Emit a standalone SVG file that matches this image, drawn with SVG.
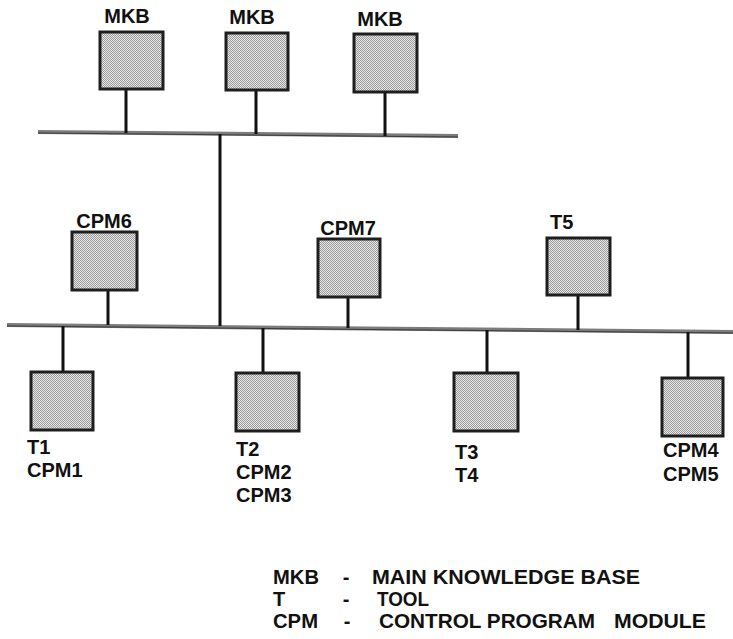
<svg xmlns="http://www.w3.org/2000/svg" width="733" height="639" viewBox="0 0 733 639">
  <defs>
    <!-- fine stipple used to fill every module box -->
    <pattern id="stipple" width="2" height="2" patternUnits="userSpaceOnUse">
      <rect width="2" height="2" fill="#e8e8e8"/>
      <rect x="0" y="0" width="1" height="1" fill="#9a9a9a"/>
      <rect x="1" y="1" width="1" height="1" fill="#9a9a9a"/>
    </pattern>
  </defs>
  <style>
    .box { fill: url(#stipple); stroke: #1e1e1e; stroke-width: 3; }
    .lbl { font-family: "Liberation Sans", Arial, sans-serif; font-size: 20px; font-weight: bold; fill: #111; }
    .mid { text-anchor: middle; }
    .bus { stroke: #7c7c7c; stroke-width: 4; fill: none; }
    .bus-edge { stroke: #3a3a3a; stroke-width: 1; fill: none; }
    .stem { stroke: #111; stroke-width: 3; fill: none; }
  </style>
  <rect width="733" height="639" fill="#ffffff"/>

  <!-- buses and drop lines -->
  <g id="connectors">
    <line class="bus" x1="38" y1="132" x2="458" y2="136"/>
    <line class="bus-edge" x1="38" y1="133" x2="458" y2="137"/>
    <line class="bus" x1="7" y1="325" x2="733" y2="332"/>
    <line class="bus-edge" x1="7" y1="326" x2="733" y2="333"/>
    <line class="stem" x1="126" y1="89" x2="126" y2="133"/>
    <line class="stem" x1="256" y1="90" x2="256" y2="134"/>
    <line class="stem" x1="385" y1="92" x2="385" y2="136"/>
    <line class="stem" x1="220" y1="134" x2="220" y2="326"/>
    <line class="stem" x1="108" y1="290" x2="108" y2="325"/>
    <line class="stem" x1="348" y1="297" x2="348" y2="328"/>
    <line class="stem" x1="578" y1="295" x2="578" y2="330"/>
    <line class="stem" x1="63" y1="326" x2="63" y2="372"/>
    <line class="stem" x1="263" y1="328" x2="263" y2="373"/>
    <line class="stem" x1="487" y1="330" x2="487" y2="373"/>
    <line class="stem" x1="688" y1="332" x2="688" y2="378"/>
  </g>

  <!-- main knowledge bases on the upper bus -->
  <g id="mkb1">
    <rect class="box" x="100" y="32" width="63" height="57"/>
    <text class="lbl mid" x="127" y="23">MKB</text>
  </g>
  <g id="mkb2">
    <rect class="box" x="226" y="33" width="62" height="57"/>
    <text class="lbl mid" x="252" y="24">MKB</text>
  </g>
  <g id="mkb3">
    <rect class="box" x="354" y="34" width="63" height="58"/>
    <text class="lbl mid" x="380" y="26">MKB</text>
  </g>

  <!-- modules above the lower bus -->
  <g id="cpm6">
    <rect class="box" x="72" y="232" width="65" height="58"/>
    <text class="lbl mid" x="104" y="228">CPM6</text>
  </g>
  <g id="cpm7">
    <rect class="box" x="318" y="239" width="62" height="58"/>
    <text class="lbl mid" x="348" y="235">CPM7</text>
  </g>
  <g id="t5">
    <rect class="box" x="547" y="238" width="63" height="57"/>
    <text class="lbl" x="550" y="229">T5</text>
  </g>

  <!-- modules below the lower bus -->
  <g id="t1-cpm1">
    <rect class="box" x="31" y="372" width="62" height="58"/>
    <text class="lbl" x="27" y="454">T1</text>
    <text class="lbl" x="27" y="477">CPM1</text>
  </g>
  <g id="t2-cpm2-cpm3">
    <rect class="box" x="236" y="373" width="63" height="58"/>
    <text class="lbl" x="236" y="456">T2</text>
    <text class="lbl" x="236" y="479">CPM2</text>
    <text class="lbl" x="236" y="502">CPM3</text>
  </g>
  <g id="t3-t4">
    <rect class="box" x="454" y="373" width="64" height="58"/>
    <text class="lbl" x="455" y="459">T3</text>
    <text class="lbl" x="455" y="482">T4</text>
  </g>
  <g id="cpm4-cpm5">
    <rect class="box" x="662" y="378" width="61" height="58"/>
    <text class="lbl" x="663" y="457">CPM4</text>
    <text class="lbl" x="663" y="481">CPM5</text>
  </g>

  <!-- key -->
  <g id="legend">
    <text class="lbl" x="273" y="584" textLength="46" lengthAdjust="spacingAndGlyphs">MKB</text>
    <text class="lbl mid" x="346" y="584">-</text>
    <text class="lbl" x="372" y="584" textLength="268" lengthAdjust="spacingAndGlyphs">MAIN KNOWLEDGE BASE</text>
    <text class="lbl" x="273" y="606">T</text>
    <text class="lbl mid" x="346" y="606">-</text>
    <text class="lbl" x="377" y="606" textLength="52" lengthAdjust="spacingAndGlyphs">TOOL</text>
    <text class="lbl" x="273" y="628" textLength="45" lengthAdjust="spacingAndGlyphs">CPM</text>
    <text class="lbl mid" x="347" y="628">-</text>
    <text class="lbl" x="379" y="628" textLength="216" lengthAdjust="spacingAndGlyphs">CONTROL PROGRAM</text>
    <text class="lbl" x="614" y="628" textLength="92" lengthAdjust="spacingAndGlyphs">MODULE</text>
  </g>
</svg>
